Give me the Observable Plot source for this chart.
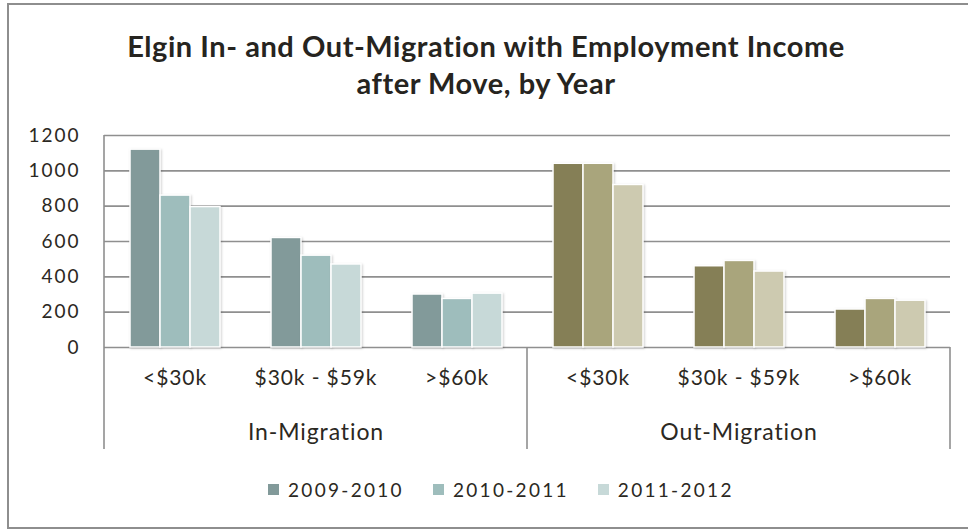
<!DOCTYPE html>
<html>
<head>
<meta charset="utf-8">
<script src="https://cdn.jsdelivr.net/npm/d3@7"></script>
<script src="https://cdn.jsdelivr.net/npm/@observablehq/plot@0.6"></script>
<style>
  html, body { margin: 0; padding: 0; background: #fff; width: 968px; height: 529px; overflow: hidden; }
  #frame { position: absolute; left: 7px; top: 3px; width: 990px; height: 522px; border: 2px solid #8e8e8e; box-sizing: content-box; }
  #title { position: absolute; left: 0; top: 27px; width: 972px; text-align: center; font-family: Lato, sans-serif; font-weight: 700; font-size: 29px; letter-spacing: 0.55px; line-height: 37px; color: #262420; }
  #chart { position: absolute; left: 0; top: 120px; }
  #legend { position: absolute; left: 268px; top: 478px; display: flex; align-items: center; font-family: Lato, sans-serif; font-size: 19px; color: #2b2822; letter-spacing: 2.3px; }
  #legend .item { display: flex; align-items: center; margin-right: 29px; }
  #legend .sw { width: 11px; height: 11px; margin-right: 9px; }
  g[aria-label="bar"] rect { filter: drop-shadow(1px 1px 1px rgba(0,0,0,0.18)); }
  g[aria-label="y-axis tick label"] text { font-size: 19px; letter-spacing: 2px; }
  g[aria-label="text"] text { letter-spacing: 0.9px; }
</style>
</head>
<body>
<div id="frame"></div>
<div id="title">Elgin In- and Out-Migration with Employment Income<br>after Move, by Year</div>
<div id="chart"></div>
<div id="legend"></div>
<script>
const groups = ["In-Migration", "Out-Migration"];
const categories = ["<$30k", "$30k - $59k", ">$60k"];
const years = ["2009-2010", "2010-2011", "2011-2012"];
const yTicks = [0, 200, 400, 600, 800, 1000, 1200];

// values per series, in category order
const inMigration2009 = [1120, 620, 300];
const inMigration2010 = [860, 520, 275];
const inMigration2011 = [795, 470, 305];
const outMigration2009 = [1040, 460, 215];
const outMigration2010 = [1040, 490, 275];
const outMigration2011 = [920, 430, 265];

const inColors = ["#829a9a", "#9ebdbc", "#c7d9d8"];
const outColors = ["#857f56", "#a9a57c", "#cdcab0"];

const seriesByGroup = [
  [inMigration2009, inMigration2010, inMigration2011],
  [outMigration2009, outMigration2010, outMigration2011]
];
const colorsByGroup = [inColors, outColors];

const keys = groups.flatMap(g => categories.map(c => g + "|" + c));
const bars = [];
groups.forEach((g, gi) => {
  categories.forEach((c, ci) => {
    years.forEach((yr, yi) => {
      bars.push({key: g + "|" + c, year: yr, value: seriesByGroup[gi][yi][ci], color: colorsByGroup[gi][yi]});
    });
  });
});
const catLabels = keys.map(k => ({key: k, label: k.split("|")[1]}));
const groupLabels = groups.map(g => ({key: g + "|" + categories[1], label: g}));

const chart = Plot.plot({
  width: 968,
  height: 340,
  marginLeft: 103,
  marginRight: 18,
  marginTop: 15,
  marginBottom: 113,
  fx: {domain: keys, padding: 0, axis: null},
  x: {domain: years, paddingInner: 0, paddingOuter: 0.8, axis: null},
  y: {domain: [0, 1200], ticks: yTicks, tickSize: 0, tickPadding: 24, tickFormat: d => String(d), label: null},
  color: {type: "identity"},
  style: {fontFamily: "Lato, sans-serif", fontSize: "19px", color: "#2b2822", background: "transparent", overflow: "visible"},
  marks: [
    Plot.ruleY(yTicks, {stroke: "#8f8f8f", strokeWidth: 1.6}),
    Plot.barY(bars, {fx: "key", x: "year", y: "value", fill: "color", stroke: "white", strokeWidth: 1.5}),
    Plot.text(catLabels, {fx: "key", text: "label", frameAnchor: "bottom", dy: 37, fontSize: 21, fill: "#2b2822"}),
    Plot.text(groupLabels, {fx: "key", text: "label", frameAnchor: "bottom", dy: 92, fontSize: 23, fill: "#2b2822"})
  ]
});
document.getElementById("chart").appendChild(chart);

// Category axis separators, positioned from Plot's own scales
const fxs = chart.scale("fx");
const ys = chart.scale("y");
const y0 = ys.apply(0), yTop = ys.apply(1200);
const below = 102;
const seps = [
  {x: fxs.apply(keys[0]), y1: yTop, y2: y0 + below},
  {x: fxs.apply(keys[3]), y1: y0, y2: y0 + below},
  {x: fxs.apply(keys[5]) + fxs.bandwidth, y1: y0, y2: y0 + below}
];
d3.select(chart).append("g")
  .selectAll("line").data(seps).join("line")
  .attr("x1", d => d.x).attr("x2", d => d.x)
  .attr("y1", d => d.y1).attr("y2", d => d.y2)
  .attr("stroke", "#8f8f8f").attr("stroke-width", 1.6);

// Legend
const legend = d3.select("#legend");
years.forEach((yr, i) => {
  const item = legend.append("div").attr("class", "item");
  item.append("div").attr("class", "sw").style("background", inColors[i]);
  item.append("span").text(yr);
});
</script>
</body>
</html>
